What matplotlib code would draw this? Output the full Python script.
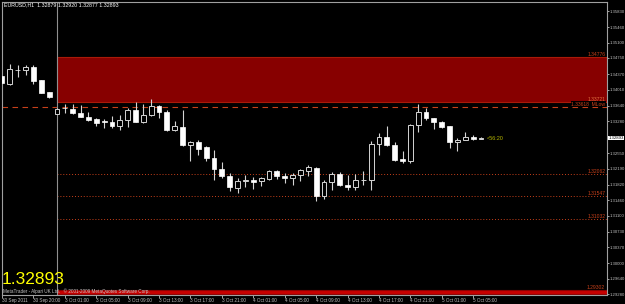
import numpy as np
import matplotlib
matplotlib.use("Agg")
import matplotlib.pyplot as plt
import matplotlib.transforms as mtransforms
from matplotlib.patches import Rectangle


# -----------------------------
# Chart data (EURUSD, H1)
# -----------------------------
opens = [1.34321, 1.34145, 1.34476, 1.34460, 1.34529, 1.34229, 1.33951, 1.33452,
         1.33590, 1.33575, 1.33482, 1.33390, 1.33328, 1.33283, 1.33268, 1.33166,
         1.33321, 1.33552, 1.33258, 1.33436, 1.33628, 1.33489, 1.33090, 1.33152,
         1.32732, 1.32806, 1.32681, 1.32436, 1.32189, 1.32027, 1.31743, 1.31915,
         1.31935, 1.31895, 1.31951, 1.32143, 1.32027, 1.31974, 1.32034, 1.32126,
         1.32212, 1.31549, 1.31882, 1.32073, 1.31819, 1.31766, 1.31933, 1.31919,
         1.32766, 1.32921, 1.32743, 1.32420, 1.32374, 1.33189, 1.33499, 1.33360,
         1.33268, 1.33166, 1.32806, 1.32843, 1.32921, 1.32879]
highs = [1.34337, 1.34614, 1.34591, 1.34591, 1.34591, 1.34235, 1.33955, 1.33580,
         1.33690, 1.33690, 1.33667, 1.33489, 1.33360, 1.33337, 1.33413, 1.33436,
         1.33591, 1.33720, 1.33690, 1.33799, 1.33667, 1.33536, 1.33298, 1.33536,
         1.32836, 1.32859, 1.32720, 1.32612, 1.32334, 1.32089, 1.31974, 1.32050,
         1.31997, 1.31997, 1.32166, 1.32166, 1.32089, 1.32089, 1.32182, 1.32265,
         1.32228, 1.31935, 1.32103, 1.32113, 1.32050, 1.32073, 1.32143, 1.32819,
         1.33013, 1.33166, 1.32796, 1.32588, 1.33210, 1.33690, 1.33591, 1.33365,
         1.33298, 1.33182, 1.32898, 1.33027, 1.32958, 1.32920]
lows = [1.34152, 1.34129, 1.34314, 1.34360, 1.34152, 1.33930, 1.33829, 1.33445,
        1.33482, 1.33459, 1.33374, 1.33281, 1.33166, 1.33129, 1.33129, 1.33090,
        1.33152, 1.33265, 1.33255, 1.33397, 1.33360, 1.33050, 1.33050, 1.32720,
        1.32357, 1.32512, 1.32357, 1.31919, 1.31974, 1.31664, 1.31627, 1.31757,
        1.31720, 1.31780, 1.31935, 1.31951, 1.31858, 1.31803, 1.31895, 1.32027,
        1.31433, 1.31489, 1.31704, 1.31780, 1.31704, 1.31704, 1.31819, 1.31688,
        1.32512, 1.32720, 1.32374, 1.32320, 1.32320, 1.33027, 1.33321, 1.33113,
        1.33129, 1.32667, 1.32588, 1.32840, 1.32843, 1.32877]
closes = [1.34168, 1.34492, 1.34470, 1.34529, 1.34205, 1.33937, 1.33845, 1.33575,
          1.33585, 1.33476, 1.33390, 1.33321, 1.33244, 1.33279, 1.33182, 1.33321,
          1.33545, 1.33268, 1.33436, 1.33628, 1.33499, 1.33090, 1.33166, 1.32743,
          1.32806, 1.32644, 1.32436, 1.32189, 1.32027, 1.31757, 1.31912, 1.31922,
          1.31888, 1.31974, 1.32143, 1.32011, 1.31974, 1.32050, 1.32150, 1.32219,
          1.31549, 1.31882, 1.32073, 1.31803, 1.31766, 1.31935, 1.31938, 1.32766,
          1.32921, 1.32727, 1.32397, 1.32374, 1.33205, 1.33499, 1.33360, 1.33268,
          1.33152, 1.32806, 1.32859, 1.32921, 1.32875, 1.32893]

time_label_bars = [0, 4, 8, 12, 16, 20, 24, 28, 32, 36, 40, 44, 48, 52, 56, 60]
time_labels = ["30 Sep 2011", "30 Sep 20:00", "3 Oct 01:00", "3 Oct 05:00",
               "3 Oct 09:00", "3 Oct 13:00", "3 Oct 17:00", "3 Oct 21:00",
               "4 Oct 01:00", "4 Oct 05:00", "4 Oct 09:00", "4 Oct 13:00",
               "4 Oct 17:00", "4 Oct 21:00", "5 Oct 01:00", "5 Oct 05:00"]

price_ticks = [1.35830, 1.35460, 1.35100, 1.34750, 1.34370, 1.34010, 1.33640,
               1.33280, 1.32550, 1.32190, 1.31820, 1.31460, 1.31100, 1.30730,
               1.30370, 1.30000, 1.29640, 1.29280]

# levels drawn by the indicators
zone_top = 1.34776
zone_bottom = 1.33721
mlow_level = 1.33618
target_levels = [1.32062, 1.31547, 1.31032]
bottom_zone = [1.29302, 1.29395]
zone_start_bar = 7

header_text = "EURUSD,H1  1.32879 1.32920 1.32877 1.32893"
last_price = 1.32893
timer_text = "<56:20"

# -----------------------------
# Styling
# -----------------------------
plt.rcParams["font.family"] = ["Liberation Sans", "DejaVu Sans"]
NARROW = ["Liberation Sans Narrow", "Liberation Sans"]

BG = "#000000"
AXIS = "#c0c0c0"
CANDLE_LINE = "#d4d4d4"
LEVEL = "#c8401a"

fig = plt.figure(figsize=(6.25, 3.04), dpi=100, facecolor=BG)
ax = fig.add_axes([2 / 625, 9 / 304, 605 / 625, 293 / 304])
ax.set_facecolor(BG)

x = np.arange(len(opens))
o = np.array(opens)
h = np.array(highs)
l = np.array(lows)
c = np.array(closes)

x_min, x_max = 0.06, 77.04
ax.set_xlim(x_min, x_max)
ax.set_ylim(1.29268, 1.36042)

# -----------------------------
# Zones and levels (behind candles)
# -----------------------------
ax.add_patch(Rectangle((zone_start_bar, zone_bottom), x_max - zone_start_bar,
                       zone_top - zone_bottom, facecolor="#870000",
                       edgecolor="#a81a08", linewidth=0.8, zorder=1))
ax.add_patch(Rectangle((zone_start_bar, bottom_zone[0]), x_max - zone_start_bar,
                       bottom_zone[1] - bottom_zone[0], facecolor="#c80000",
                       edgecolor="#8a0000", linewidth=0.8, zorder=1))

ax.axhline(mlow_level, color=LEVEL, linewidth=0.8, linestyle=(0, (5, 4)), zorder=1)
for level in target_levels:
    ax.hlines(level, zone_start_bar, x_max, color=LEVEL, linewidth=0.7,
              linestyles=(0, (1, 2)), zorder=1)

ax.axvline(zone_start_bar, color="#909090", linewidth=0.8, zorder=1)

# -----------------------------
# Candles
# -----------------------------
bull = c >= o
ax.vlines(x, l, h, color=CANDLE_LINE, linewidth=0.8, zorder=2)

body_low = np.minimum(o, c)
body_h = np.maximum(np.abs(c - o), 0.00004)
width = 0.62
ax.bar(x[bull], body_h[bull], width=width, bottom=body_low[bull],
       facecolor=BG, edgecolor=CANDLE_LINE, linewidth=0.7, zorder=3)
ax.bar(x[~bull], body_h[~bull], width=width, bottom=body_low[~bull],
       facecolor="#ffffff", edgecolor="#ffffff", linewidth=0.5, zorder=3)

# -----------------------------
# Level labels
# -----------------------------
trans = mtransforms.blended_transform_factory(ax.transAxes, ax.transData)
label_x = 0.997
ax.text(label_x, zone_top, f"{zone_top:.5f}", transform=trans, ha="right",
        va="bottom", fontsize=3.6, color=LEVEL, zorder=5)
ax.text(label_x, zone_bottom, f"{zone_bottom:.5f}", transform=trans, ha="right",
        va="bottom", fontsize=3.6, color="#e07040", zorder=5)
ax.text(label_x, mlow_level, f"{mlow_level:.5f}  MLow", transform=trans, ha="right",
        va="bottom", fontsize=3.6, color=LEVEL, zorder=5,
        bbox=dict(facecolor=BG, edgecolor="none", pad=0.3))
for level in target_levels:
    ax.text(label_x, level, f"{level:.5f}", transform=trans, ha="right",
            va="bottom", fontsize=3.6, color=LEVEL, zorder=5)
ax.text(label_x, bottom_zone[1], f"{bottom_zone[0]:.5f}", transform=trans,
        ha="right", va="bottom", fontsize=3.6, color=LEVEL, zorder=5)

ax.text(x[-1] + 0.7, c[-1], timer_text, ha="left", va="center", fontsize=4,
        color="#b4b400", zorder=5)

# -----------------------------
# Axes
# -----------------------------
for side in ["left", "top", "bottom", "right"]:
    ax.spines[side].set_color("#a0a0a0")
    ax.spines[side].set_linewidth(0.8)

ax.yaxis.tick_right()
ax.set_yticks(price_ticks)
ax.set_yticklabels([f"{p:.5f}" for p in price_ticks], fontfamily=NARROW)
ax.tick_params(axis="y", colors=AXIS, labelsize=3.1, length=1.5, width=0.6, pad=0.4)

ax.set_xticks(time_label_bars)
ax.set_xticklabels(time_labels, ha="left")
ax.tick_params(axis="x", colors=AXIS, labelsize=3.3, length=2, width=0.6, pad=0.5)

# current price on the price scale
ax.text(1.0025, last_price, f"{last_price:.5f}", transform=trans, ha="left",
        va="center", fontsize=3.1, color="#000000", clip_on=False, zorder=6,
        family=NARROW, bbox=dict(facecolor="#ffffff", edgecolor="none", pad=0.2))

# -----------------------------
# Header and footer texts
# -----------------------------
fig.text(4 / 625, 1 - 5 / 304, header_text, fontsize=3.8, color="#ffffff",
         va="center", ha="left")
fig.text(3 / 625, 1 - 291 / 304,
         "MetaTrader - Alpari UK Ltd.   \u00a9 2001-2009 MetaQuotes Software Corp.",
         fontsize=3.3, color="#c8c8c8", va="center", ha="left", zorder=7)
fig.text(2 / 625, 1 - 284 / 304, f"{last_price:.5f}", fontsize=12.5,
         color="#ffff00", va="baseline", ha="left", zorder=8)

fig.savefig("out.png", dpi=100, facecolor=BG)
